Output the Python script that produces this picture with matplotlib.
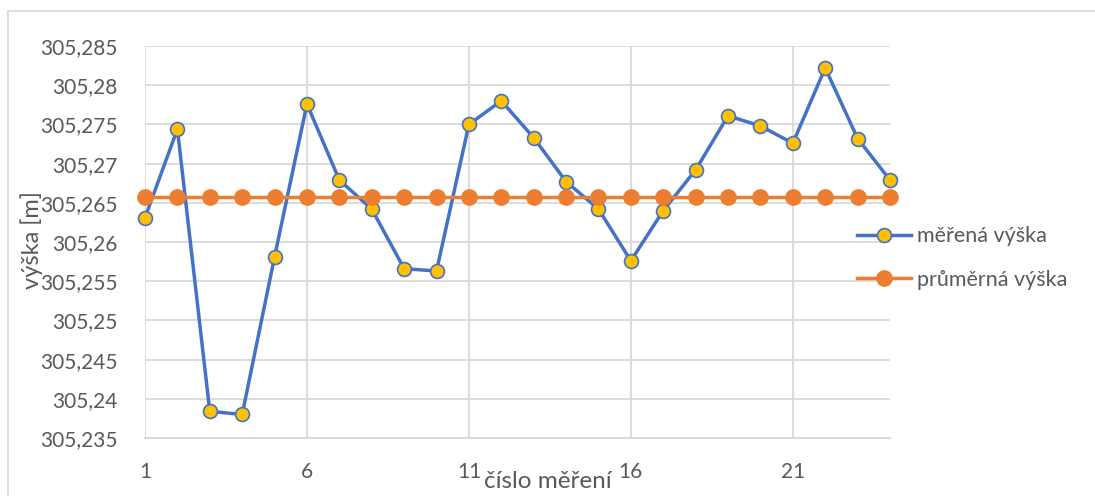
import matplotlib.pyplot as plt
from matplotlib.patches import Rectangle

# measurement numbers and measured heights [m]
cislo = list(range(1, 25))
vyska = [305.2631, 305.2744, 305.2384, 305.2380, 305.2581, 305.2776,
         305.2679, 305.2642, 305.2566, 305.2563, 305.2750, 305.2780,
         305.2733, 305.2677, 305.2642, 305.2576, 305.2640, 305.2692,
         305.2761, 305.2748, 305.2726, 305.2822, 305.2732, 305.2679]
prumer = [305.2658] * len(cislo)

x_ticks = [1, 6, 11, 16, 21]
y_ticks = [305.235, 305.24, 305.245, 305.25, 305.255, 305.26,
           305.265, 305.27, 305.275, 305.28, 305.285]
y_labels = ["305,235", "305,24", "305,245", "305,25", "305,255", "305,26",
            "305,265", "305,27", "305,275", "305,28", "305,285"]


def main():
    plt.rcParams['font.family'] = ['Lato', 'DejaVu Sans']
    text_col = '#595959'
    grid_col = '#D9D9D9'

    W, H = 1095, 496
    fig = plt.figure(figsize=(W / 100, H / 100), dpi=100)
    # outer chart frame
    fig.patches.append(Rectangle((8 / W, -0.1), 1.2, 1.1 - 11 / H,
                                 transform=fig.transFigure, fill=False,
                                 edgecolor=grid_col, linewidth=1.2))

    ax = fig.add_axes([145 / W, 1 - 438 / H, 745 / W, 392 / H])

    ax.plot(cislo, vyska, color='#4472C4', linewidth=2.5, marker='o',
            markersize=10, markerfacecolor='#FFC000',
            markeredgecolor='#4472C4', markeredgewidth=1.2,
            label='měřená výška', zorder=3, clip_on=False)
    ax.plot(cislo, prumer, color='#ED7D31', linewidth=2.5, marker='o',
            markersize=11, markerfacecolor='#ED7D31',
            markeredgecolor='#ED7D31', label='průměrná výška',
            zorder=4, clip_on=False)

    ax.set_xlim(1, 24)
    ax.set_ylim(305.235, 305.285)
    ax.set_xticks(x_ticks)
    ax.set_yticks(y_ticks, y_labels)
    ax.tick_params(length=0, labelsize=15, labelcolor=text_col)
    ax.tick_params(axis='x', pad=17)
    ax.tick_params(axis='y', pad=20)
    ax.grid(True, color=grid_col, linewidth=1.3)
    ax.set_axisbelow(True)
    for side in ['top', 'right', 'left']:
        ax.spines[side].set_visible(False)
    ax.spines['bottom'].set_color(grid_col)
    ax.spines['bottom'].set_linewidth(1.5)

    fig.text(32 / W, 1 - 240 / H, 'výška [m]', rotation=90, ha='center',
             va='center', fontsize=17, color=text_col)
    fig.text(548 / W, 1 - 482 / H, 'číslo měření', ha='center',
             va='center', fontsize=17.5, color=text_col)

    fig.legend(loc='center left', bbox_to_anchor=(857 / W, 1 - 258 / H),
               frameon=False, fontsize=15.5, labelcolor=text_col,
               handlelength=2.5, handletextpad=0.3, labelspacing=1.1,
               borderpad=0, borderaxespad=0)

    fig.savefig('out.png', dpi=100)


if __name__ == "__main__":
    main()
